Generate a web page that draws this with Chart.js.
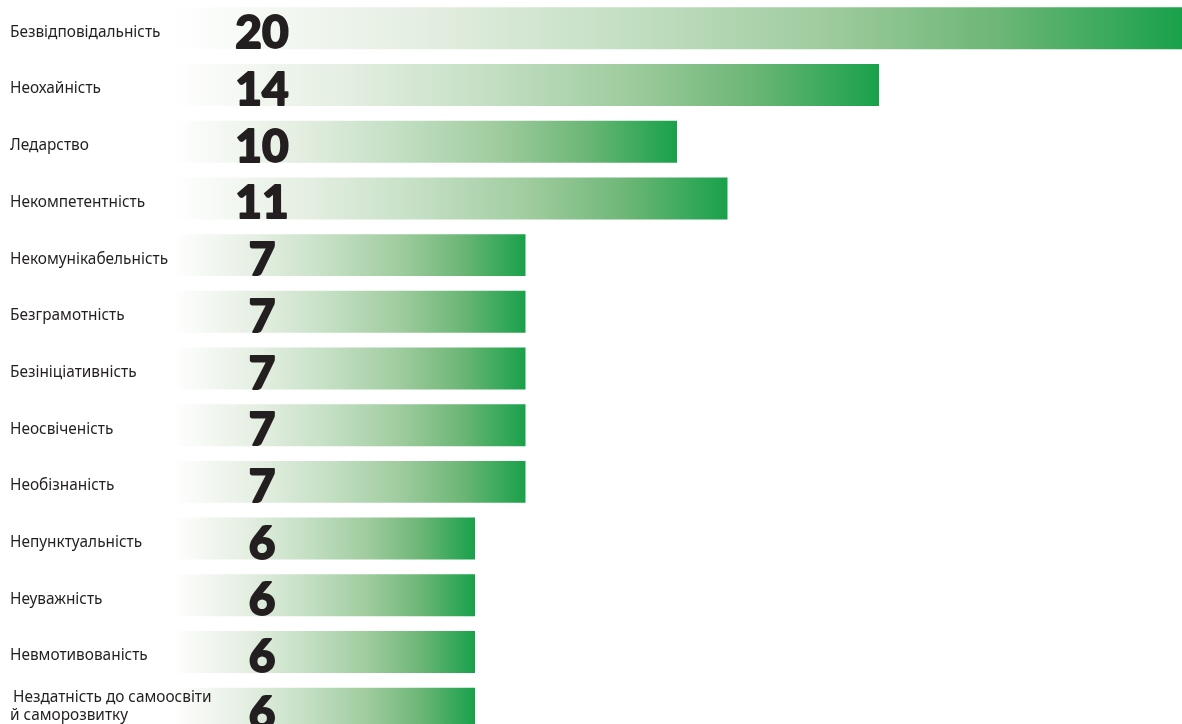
<!DOCTYPE html>
<html>
<head>
<meta charset="utf-8">
<script src="https://cdn.jsdelivr.net/npm/chart.js@4.4.1/dist/chart.umd.min.js"></script>
<style>
  html, body { margin: 0; padding: 0; background: #fff; overflow: hidden; }
  #wrap { position: relative; width: 1182px; height: 737px; }
</style>
</head>
<body>
<div id="wrap"><canvas id="chart"></canvas></div>
<script>
// --- ДАНІ ---
const categories = [
    'Безвідповідальність',
    'Неохайність',
    'Ледарство',
    'Некомпетентність',
    'Некомунікабельність',
    'Безграмотність',
    'Безініціативність',
    'Неосвіченість',
    'Необізнаність',
    'Непунктуальність',
    'Неуважність',
    'Невмотивованість',
    ['Нездатність до самоосвіти', 'й саморозвитку']
];
const values = [20, 14, 10, 11, 7, 7, 7, 7, 7, 6, 6, 6, 6];
const axisMax = 20;

// градієнт від білого до зеленого для кожного бару окремо
function barGradient(context) {
    const chart = context.chart;
    const { ctx, chartArea, scales } = chart;
    if (!chartArea) return '#1ba24a';
    const v = context.parsed ? context.parsed.x : values[context.dataIndex];
    const x0 = scales.x.getPixelForValue(0);
    const x1 = scales.x.getPixelForValue(v);
    const g = ctx.createLinearGradient(x0, 0, x1, 0);
    g.addColorStop(0, '#ffffff');
    g.addColorStop(0.25, '#e4eee1');
    g.addColorStop(0.45, '#c3dfc3');
    g.addColorStop(0.65, '#9ecb9d');
    g.addColorStop(0.82, '#6cb676');
    g.addColorStop(1, '#19a14a');
    return g;
}

// підписи категорій (поверх барів) і великі цифри
const overlayLabels = {
    id: 'overlayLabels',
    afterDatasetsDraw(chart) {
        const { ctx, scales } = chart;
        const meta = chart.getDatasetMeta(0);
        ctx.save();

        // назви зліва
        ctx.font = '15.4px "Noto Sans", "Open Sans", sans-serif';
        ctx.fillStyle = '#231f20';
        ctx.textAlign = 'left';
        ctx.textBaseline = 'middle';
        categories.forEach((label, i) => {
            const y = scales.y.getPixelForTick(i) + 4;
            if (Array.isArray(label)) {
                ctx.fillText(label[0], 13, y - 15);
                ctx.fillText(label[1], 10, y + 3);
            } else {
                ctx.fillText(label, 10, y);
            }
        });

        // значення
        ctx.font = '900 46px Lato, "DejaVu Sans", sans-serif';
        ctx.fillStyle = '#231f20';
        ctx.strokeStyle = '#231f20';
        ctx.lineWidth = 1.8;
        ctx.lineJoin = 'round';
        ctx.textAlign = 'center';
        ctx.textBaseline = 'alphabetic';
        const cx = scales.x.getPixelForValue(0) + 90;
        meta.data.forEach((bar, i) => {
            ctx.fillText(String(values[i]), cx, bar.y + 20);
            ctx.strokeText(String(values[i]), cx, bar.y + 20);
        });
        ctx.restore();
    }
};

const ctx = document.getElementById('chart').getContext('2d');
const chart = new Chart(ctx, {
    type: 'bar',
    data: {
        labels: categories,
        datasets: [{
            data: values,
            backgroundColor: barGradient,
            borderWidth: 0,
            barPercentage: 0.74,
            categoryPercentage: 1
        }]
    },
    options: {
        indexAxis: 'y',
        responsive: true,
        maintainAspectRatio: false,
        animation: false,
        layout: { padding: { left: 10, right: 0, top: 0, bottom: 0 } },
        plugins: {
            legend: { display: false },
            tooltip: { enabled: false }
        },
        scales: {
            x: {
                min: 0,
                max: axisMax,
                display: false
            },
            y: {
                grid: { display: false },
                border: { display: false },
                ticks: { display: false },
                afterFit(scale) {
                    scale.width = 162;
                    scale.paddingTop = 0;
                    scale.paddingBottom = 0;
                }
            }
        }
    },
    plugins: [overlayLabels]
});
</script>
</body>
</html>
